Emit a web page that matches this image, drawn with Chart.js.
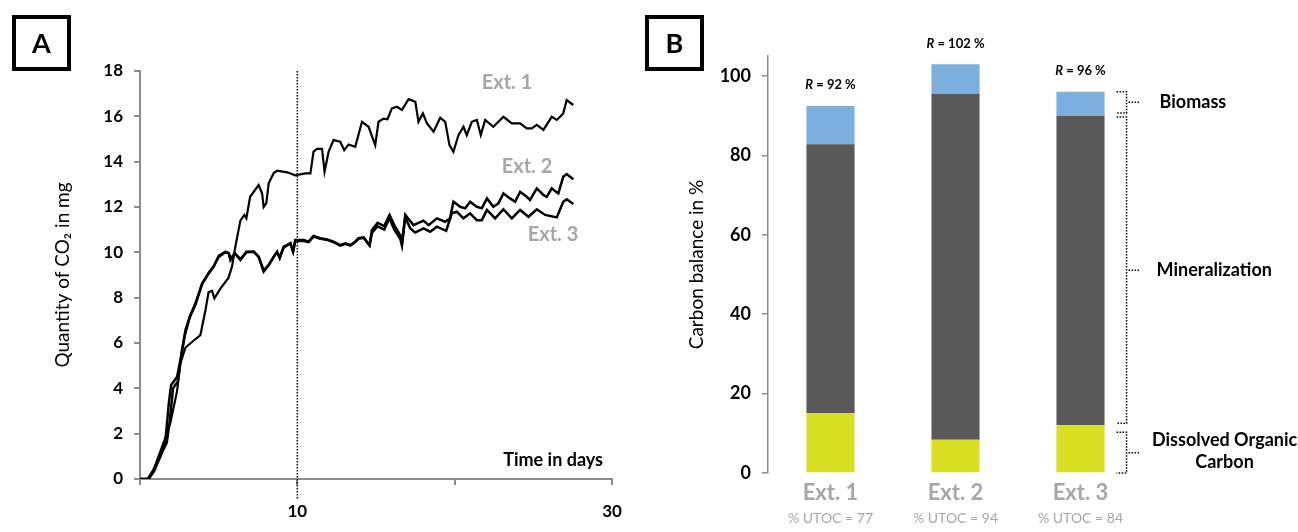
<!DOCTYPE html>
<html>
<head>
<meta charset="utf-8">
<script src="https://cdn.jsdelivr.net/npm/chart.js@4.4.1/dist/chart.umd.min.js"></script>
<style>
  body { margin: 0; background: #fff; }
  #wrap { position: relative; width: 1298px; height: 532px; overflow: hidden; font-family: Lato, sans-serif; }
  .panel { position: absolute; top: 0; }
  .tag { position: absolute; top: 15px; width: 51px; height: 48px; border: 4px solid #000;
         font: bold 27px Lato, sans-serif; text-align: center; line-height: 48px; }
</style>
</head>
<body>
<div id="wrap">
  <canvas id="chartA" class="panel" width="640" height="532" style="left:0"></canvas>
  <canvas id="chartB" class="panel" width="658" height="532" style="left:640px"></canvas>
  <div class="tag" style="left:12px">A</div>
  <div class="tag" style="left:645px">B</div>
</div>
<script>
// ---- panel A: cumulative CO2 (day, mg) ----
const ext1Data = [[0,0],[0.5,0],[0.86,0.4],[1.5,1.6],[1.94,2.5],[2.36,3.9],[2.57,5.1],[2.89,5.8],[3.4,6.1],[3.84,6.35],
  [4.16,7.45],[4.36,8.25],[4.58,8.3],[4.73,7.97],[5.11,8.4],[5.62,8.87],[5.85,9.37],[6.06,10.25],[6.38,11.4],[6.63,11.65],
  [6.76,11.5],[7.0,12.45],[7.54,12.97],[7.76,12.6],[7.86,12.0],[8.03,12.17],[8.18,13.05],[8.5,13.5],[8.71,13.6],[9.35,13.53],
  [9.87,13.4],[10.5,13.48],[10.83,13.48],[11.03,14.44],[11.25,14.56],[11.57,14.56],[11.73,13.56],[11.99,14.44],[12.3,14.95],
  [12.73,14.88],[12.98,14.51],[13.26,14.76],[13.68,14.66],[14.11,15.76],[14.53,15.54],[14.95,14.73],[15.16,15.76],[15.48,15.9],
  [15.73,15.87],[16.01,16.35],[16.33,16.42],[16.65,16.28],[17.07,16.76],[17.5,16.64],[17.7,15.76],[17.98,16.13],[18.24,15.69],
  [18.66,15.32],[19.08,15.94],[19.4,15.76],[19.67,14.73],[19.92,14.44],[20.24,15.17],[20.56,15.54],[20.77,15.17],[21.09,15.76],
  [21.41,15.84],[21.66,15.17],[21.94,15.84],[22.46,15.54],[23.1,15.98],[23.63,15.69],[24.16,15.69],[24.58,15.47],[24.9,15.47],
  [25.22,15.62],[25.64,15.4],[26.17,15.98],[26.49,15.84],[26.7,15.98],[26.9,16.13],[27.12,16.72],[27.54,16.5]];

const ext2Data = [[0,0],[0.5,0],[0.86,0.4],[1.3,1.0],[1.62,1.72],[1.83,3.34],[1.98,4.15],[2.36,4.51],[2.61,5.4],[2.83,6.28],
  [3.16,7.16],[3.52,7.68],[3.95,8.63],[4.37,9.07],[4.69,9.37],[5.0,9.84],[5.43,10.03],[5.64,9.96],[5.75,9.66],[6.02,9.96],
  [6.38,9.66],[6.76,10.03],[7.23,10.03],[7.54,9.81],[7.86,9.15],[8.18,9.44],[8.5,9.81],[8.71,10.03],[8.88,9.74],[9.13,10.25],
  [9.56,10.4],[9.73,10.03],[9.87,10.54],[10.4,10.54],[10.72,10.47],[11.03,10.72],[11.46,10.62],[11.89,10.57],[12.3,10.47],
  [12.73,10.32],[13.05,10.4],[13.37,10.32],[13.68,10.47],[13.89,10.62],[14.21,10.66],[14.59,10.32],[14.74,10.98],[15.1,11.3],
  [15.52,11.16],[15.86,11.65],[16.16,11.2],[16.54,10.76],[16.65,10.4],[16.86,11.65],[17.38,11.2],[18.02,11.4],[18.34,11.2],
  [18.87,11.5],[19.4,11.35],[19.71,11.5],[19.92,12.23],[20.35,12.01],[20.67,11.94],[20.98,12.23],[21.41,12.01],[21.73,11.94],
  [22.05,12.38],[22.46,12.01],[22.78,12.16],[23.1,12.6],[23.52,12.38],[23.84,12.23],[24.16,12.67],[24.58,12.45],[24.79,12.31],
  [25.22,12.82],[25.64,12.53],[25.85,12.45],[26.17,12.82],[26.59,12.6],[26.9,13.33],[27.12,13.45],[27.54,13.22]];

const ext3Data = [[0,0],[0.55,0],[0.9,0.35],[1.35,1.1],[1.7,1.6],[1.9,2.6],[2.1,4.0],[2.4,4.3],[2.65,5.6],[2.9,6.6],
  [3.2,7.2],[3.52,7.75],[3.95,8.6],[4.37,9.1],[4.69,9.4],[5.0,9.8],[5.43,10.0],[5.64,9.96],[5.75,9.7],[6.02,9.96],
  [6.38,9.7],[6.76,10.0],[7.23,10.03],[7.54,9.8],[7.86,9.2],[8.18,9.44],[8.5,9.8],[8.71,10.0],[8.88,9.78],[9.13,10.2],
  [9.56,10.4],[9.73,10.05],[9.87,10.5],[10.4,10.5],[10.72,10.45],[11.03,10.7],[11.46,10.6],[11.89,10.55],[12.3,10.45],
  [12.73,10.3],[13.05,10.38],[13.37,10.3],[13.68,10.45],[13.89,10.6],[14.21,10.64],[14.59,10.3],[14.74,10.85],[15.1,11.15],
  [15.52,11.0],[15.86,11.5],[16.16,11.0],[16.54,10.6],[16.65,10.3],[16.86,11.55],[17.17,11.06],[17.49,10.87],[18.02,11.06],
  [18.44,10.91],[18.87,11.13],[19.46,10.95],[19.82,11.72],[20.14,11.79],[20.56,11.5],[20.98,11.72],[21.41,11.42],[21.73,11.42],
  [22.05,11.87],[22.57,11.5],[23.1,11.9],[23.63,11.5],[24.16,11.87],[24.69,11.57],[25.22,11.9],[25.75,11.65],[26.49,11.54],
  [26.9,12.23],[27.12,12.34],[27.54,12.13]];

const seriesNamesA = ['Ext. 1', 'Ext. 2', 'Ext. 3'];
const xTickLabelsA = ['', '10', '', '30'];
const markerDay = 10;

// ---- panel B: carbon balance (%) ----
const extracts = ['Ext. 1', 'Ext. 2', 'Ext. 3'];
const utocLabels = ['% UTOC = 77', '% UTOC = 94', '% UTOC = 84'];
const docValues = [15.1, 8.4, 12.0];
const mineralValues = [67.7, 87.1, 77.9];
const biomassValues = [9.6, 7.4, 6.1];
const recovery = [92, 102, 96];
const yTicksB = [0, 20, 40, 60, 80, 100];

const FONT = 'Lato, sans-serif';
const GREY = '#a6a6a6';
const AXIS = '#8c8c8c';

// dotted day-10 line + series names + x title
const panelAExtras = {
  id: 'panelAExtras',
  afterDraw(chart) {
    const {ctx, chartArea, scales} = chart;
    const x = scales.x.getPixelForValue(markerDay);
    ctx.save();
    ctx.setLineDash([1.5, 1.5]);
    ctx.strokeStyle = '#000';
    ctx.lineWidth = 1.5;
    ctx.beginPath();
    ctx.moveTo(x, chartArea.top);
    ctx.lineTo(x, chartArea.bottom + 21);
    ctx.stroke();
    ctx.setLineDash([]);

    ctx.fillStyle = GREY;
    ctx.font = 'bold 20px ' + FONT;
    ctx.textAlign = 'center';
    ctx.textBaseline = 'middle';
    ctx.fillText(seriesNamesA[0], 507, 83);
    ctx.fillText(seriesNamesA[1], 527, 167);
    ctx.fillText(seriesNamesA[2], 553, 235);

    ctx.fillStyle = '#000';
    ctx.font = 'bold 18px ' + FONT;
    ctx.textAlign = 'right';
    ctx.fillText('Time in days', 603, 460);
    ctx.restore();
  }
};

new Chart(document.getElementById('chartA'), {
  type: 'line',
  data: {
    datasets: [ext1Data, ext2Data, ext3Data].map((d, i) => ({
      label: seriesNamesA[i],
      data: d.map(p => ({x: p[0], y: p[1]})),
      borderColor: '#000',
      borderWidth: i === 0 ? 2.2 : 2.5,
      pointRadius: 0,
      tension: 0,
      fill: false
    }))
  },
  options: {
    responsive: false,
    animation: false,
    layout: { padding: { left: 0, right: 28, top: 71, bottom: 8 } },
    plugins: { legend: { display: false }, tooltip: { enabled: false } },
    scales: {
      x: {
        type: 'linear', min: 0, max: 30,
        afterFit: (s) => { s.height = 45; },
        ticks: {
          stepSize: 10, color: '#000', padding: 16,
          font: { family: FONT, size: 17, weight: 'bold' },
          callback: (v, i) => xTickLabelsA[i]
        },
        grid: { drawOnChartArea: false, tickLength: 6, color: AXIS, lineWidth: 2 },
        border: { color: AXIS, width: 2 }
      },
      y: {
        min: 0, max: 18,
        afterFit: (s) => { s.width = 140; },
        ticks: { stepSize: 2, color: '#000', padding: 11, font: { family: FONT, size: 17, weight: 'bold' } },
        grid: { drawOnChartArea: false, tickLength: 6, color: AXIS, lineWidth: 2 },
        border: { color: AXIS, width: 2 },
        title: { display: true, text: 'Quantity of CO₂ in mg', color: '#000',
                 font: { family: FONT, size: 19 }, padding: { top: 51, bottom: 0 } }
      }
    }
  },
  plugins: [panelAExtras]
});

// R labels above bars, brackets and component names on the right
const panelBExtras = {
  id: 'panelBExtras',
  afterDraw(chart) {
    const {ctx, scales} = chart;
    const y = scales.y;
    const bars = chart.getDatasetMeta(0).data;
    ctx.save();
    ctx.fillStyle = '#000';
    ctx.textBaseline = 'middle';
    bars.forEach((bar, i) => {
      const total = docValues[i] + mineralValues[i] + biomassValues[i];
      const ty = y.getPixelForValue(total) - 21;
      const rest = ' = ' + recovery[i] + ' %';
      ctx.font = 'italic bold 13px ' + FONT;
      const wR = ctx.measureText('R').width;
      ctx.font = 'bold 13px ' + FONT;
      const wRest = ctx.measureText(rest).width;
      const x0 = bar.x - (wR + wRest) / 2;
      ctx.textAlign = 'left';
      ctx.font = 'italic bold 13px ' + FONT;
      ctx.fillText('R', x0, ty);
      ctx.font = 'bold 13px ' + FONT;
      ctx.fillText(rest, x0 + wR, ty);
    });

    const last = bars.length - 1;
    const bx = bars[last].x + bars[last].width / 2 + 12;
    const docTop = y.getPixelForValue(docValues[last]);
    const minTop = y.getPixelForValue(docValues[last] + mineralValues[last]);
    const top = y.getPixelForValue(docValues[last] + mineralValues[last] + biomassValues[last]);
    const base = y.getPixelForValue(0);

    const bracket = (y0, y1) => {
      const m = (y0 + y1) / 2;
      ctx.beginPath();
      ctx.moveTo(bx, y0); ctx.lineTo(bx + 10, y0); ctx.lineTo(bx + 10, y1); ctx.lineTo(bx, y1);
      ctx.moveTo(bx + 12, m); ctx.lineTo(bx + 23, m);
      ctx.stroke();
      return m;
    };
    ctx.strokeStyle = '#000';
    ctx.lineWidth = 1.5;
    ctx.setLineDash([1.5, 1.5]);
    const mBio = bracket(top, minTop - 3);
    const mMin = bracket(minTop + 1, docTop - 2);
    const mDoc = bracket(docTop + 7, base);
    ctx.setLineDash([]);

    ctx.font = 'bold 18px ' + FONT;
    ctx.textAlign = 'left';
    ctx.fillText('Biomass', bx + 43, mBio);
    ctx.fillText('Mineralization', bx + 40, mMin);
    ctx.textAlign = 'center';
    ctx.fillText('Dissolved Organic', bx + 108, mDoc - 12);
    ctx.fillText('Carbon', bx + 108, mDoc + 10);
    ctx.restore();
  }
};

new Chart(document.getElementById('chartB'), {
  type: 'bar',
  data: {
    labels: extracts,
    datasets: [
      { label: 'Dissolved Organic Carbon', data: docValues, backgroundColor: '#d8df24' },
      { label: 'Mineralization', data: mineralValues, backgroundColor: '#595959' },
      { label: 'Biomass', data: biomassValues, backgroundColor: '#7aafde' }
    ]
  },
  options: {
    responsive: false,
    animation: false,
    categoryPercentage: 1,
    barPercentage: 0.385,
    layout: { padding: { left: 0, right: 155, top: 56, bottom: 0 } },
    plugins: { legend: { display: false }, tooltip: { enabled: false } },
    scales: {
      x: {
        stacked: true, weight: 0,
        afterFit: (s) => { s.height = 34; },
        ticks: { color: GREY, padding: 7, font: { family: FONT, size: 22, weight: 'bold' } },
        grid: { display: false, drawTicks: false },
        border: { display: false }
      },
      x2: {
        type: 'category', labels: utocLabels, position: 'bottom', weight: 1,
        afterFit: (s) => { s.height = 25; },
        ticks: { color: GREY, padding: 3, font: { family: FONT, size: 14 } },
        grid: { display: false, drawTicks: false },
        border: { display: false }
      },
      y: {
        stacked: true, min: 0, max: 105,
        afterFit: (s) => { s.width = 128; },
        afterBuildTicks: (s) => { s.ticks = yTicksB.map(v => ({ value: v })); },
        ticks: { color: '#000', padding: 11, font: { family: FONT, size: 18, weight: 'bold' } },
        grid: { drawOnChartArea: false, tickLength: 6, color: AXIS, lineWidth: 1.5 },
        border: { color: AXIS, width: 1.5 },
        title: { display: true, text: 'Carbon balance in %', color: '#000',
                 font: { family: FONT, size: 19 }, padding: { top: 45, bottom: 0 } }
      }
    }
  },
  plugins: [panelBExtras]
});
</script>
</body>
</html>
